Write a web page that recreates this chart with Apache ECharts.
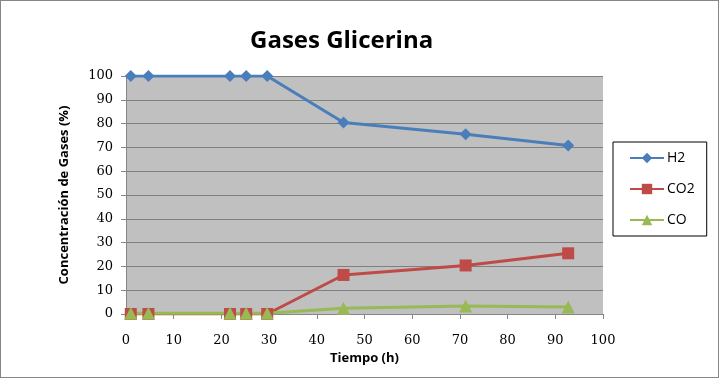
<!DOCTYPE html>
<html>
<head>
<meta charset="utf-8">
<script src="https://cdn.jsdelivr.net/npm/echarts@6/dist/echarts.min.js"></script>
<style>
  html, body { margin: 0; padding: 0; background: #fff; }
  #main { width: 717px; height: 376px; border: 1px solid #868686; }
</style>
</head>
<body>
<div id="main"></div>
<script>
// datos
var tiempo = [1, 4.7, 21.8, 25.2, 29.6, 45.6, 71.2, 92.7];
var h2 = [100, 100, 100, 100, 100, 80.5, 75.5, 70.8];
var co2 = [0, 0, 0, 0, 0, 16.4, 20.4, 25.5];
var co = [0.3, 0.3, 0.3, 0.3, 0.3, 2.4, 3.4, 2.9];
var xTicks = [0, 10, 20, 30, 40, 50, 60, 70, 80, 90, 100];
var yTicks = [0, 10, 20, 30, 40, 50, 60, 70, 80, 90, 100];

function pairs(ys) {
  return tiempo.map(function (t, i) { return [t, ys[i]]; });
}

var font = 'Open Sans';
var tickFont = 'DejaVu Serif';
var myChart = echarts.init(document.getElementById('main'));
myChart.setOption({
  animation: false,
  title: {
    text: 'Gases Glicerina',
    left: 244,
    top: 23,
    textStyle: { fontFamily: font, fontSize: 24, fontWeight: 'bold', color: '#000' }
  },
  legend: {
    orient: 'vertical',
    left: 612,
    top: 141,
    padding: [9, 12, 9, 16],
    itemGap: 17,
    itemWidth: 34,
    itemHeight: 13,
    borderColor: '#000',
    borderWidth: 1,
    textStyle: { fontFamily: font, fontSize: 14, color: '#000', padding: [0, 0, 0, -2] },
    data: ['H2', 'CO2', 'CO']
  },
  grid: { left: 125, right: 115, top: 75, bottom: 63, show: true, backgroundColor: '#C0C0C0', borderWidth: 0 },
  xAxis: {
    type: 'value',
    min: xTicks[0],
    max: xTicks[xTicks.length - 1],
    interval: 10,
    name: 'Tiempo (h)',
    nameLocation: 'middle',
    nameGap: 38,
    nameTextStyle: { fontFamily: font, fontSize: 13, fontWeight: 'bold', color: '#000' },
    axisLine: { lineStyle: { color: '#868686' } },
    axisTick: { show: true, length: 5, lineStyle: { color: '#868686' } },
    axisLabel: { fontFamily: tickFont, fontSize: 13, color: '#000', margin: 20 },
    splitLine: { show: false }
  },
  yAxis: {
    type: 'value',
    min: yTicks[0],
    max: yTicks[yTicks.length - 1],
    interval: 10,
    name: 'Concentración de Gases (%)',
    nameLocation: 'middle',
    nameGap: 55,
    nameTextStyle: { fontFamily: font, fontSize: 13, fontWeight: 'bold', color: '#000' },
    axisLine: { show: true, lineStyle: { color: '#868686' } },
    axisTick: { show: true, length: 5, lineStyle: { color: '#868686' } },
    axisLabel: { fontFamily: tickFont, fontSize: 13, color: '#000', margin: 13 },
    splitLine: { show: true, lineStyle: { color: '#808080', width: 1 } }
  },
  series: [
    {
      name: 'H2', type: 'line', data: pairs(h2),
      symbol: 'diamond', symbolSize: 12,
      itemStyle: { color: '#4A7EBB' },
      lineStyle: { width: 3, color: '#4A7EBB' }
    },
    {
      name: 'CO2', type: 'line', data: pairs(co2),
      symbol: 'rect', symbolSize: 12,
      itemStyle: { color: '#BE4B48' },
      lineStyle: { width: 3, color: '#BE4B48' }
    },
    {
      name: 'CO', type: 'line', data: pairs(co),
      symbol: 'triangle', symbolSize: 13,
      itemStyle: { color: '#98B954' },
      lineStyle: { width: 3, color: '#98B954' }
    }
  ]
});
</script>
</body>
</html>
